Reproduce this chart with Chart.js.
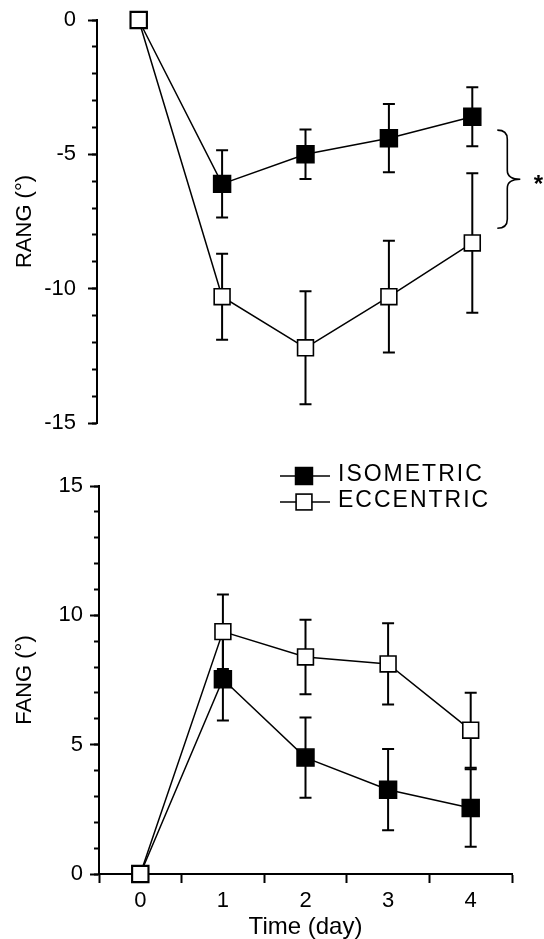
<!DOCTYPE html>
<html>
<head>
<meta charset="utf-8">
<script src="https://cdn.jsdelivr.net/npm/chart.js@4.4.1/dist/chart.umd.min.js"></script>
<style>
  html, body { margin: 0; padding: 0; background: #fff; }
  #wrap { position: relative; width: 544px; height: 939px; }
  canvas { position: absolute; left: 0; }
  #rang { top: 0; }
  #fang { top: 460px; }
</style>
</head>
<body>
<div id="wrap">
  <canvas id="rang" width="544" height="460"></canvas>
  <canvas id="fang" width="544" height="479"></canvas>
</div>
<script>
const days = [0, 1, 2, 3, 4];

// top panel, RANG (deg)
const rangIso = [0, -6.1, -5.0, -4.4, -3.6];
const rangIsoErr = [0, 1.25, 0.92, 1.27, 1.1];
const rangEcc = [0, -10.3, -12.2, -10.3, -8.3];
const rangEccErr = [0, 1.6, 2.1, 2.08, 2.6];
const rangTicks = [-15, -10, -5, 0];
const braceRange = [-4.1, -7.75];

// bottom panel, FANG (deg)
const fangIso = [0, 7.53, 4.5, 3.26, 2.55];
const fangIsoErr = [0, 1.6, 1.55, 1.57, 1.5];
const fangEcc = [0, 9.37, 8.39, 8.12, 5.56];
const fangEccErr = [0, 1.44, 1.44, 1.57, 1.45];
const fangTicks = [0, 5, 10, 15];

const FONT = 'Liberation Sans, Arial, sans-serif';

function points(vals) {
  return days.map((d, i) => ({ x: d, y: vals[i] }));
}

function isoSet(vals, errs) {
  return {
    label: 'ISOMETRIC',
    data: points(vals),
    errors: errs,
    borderColor: '#000',
    borderWidth: 1.5,
    backgroundColor: '#000',
    pointStyle: 'rect',
    pointRadius: 12,
    pointBorderWidth: 1.5,
    pointBackgroundColor: '#000',
    pointBorderColor: '#000',
    tension: 0,
    clip: false,
    order: 1
  };
}

function eccSet(vals, errs) {
  return {
    label: 'ECCENTRIC',
    data: points(vals),
    errors: errs,
    borderColor: '#000',
    borderWidth: 1.5,
    backgroundColor: '#fff',
    pointStyle: 'rect',
    pointRadius: 11.2,
    pointBorderWidth: 1.6,
    pointBackgroundColor: '#fff',
    pointBorderColor: '#000',
    tension: 0,
    clip: false,
    order: 0
  };
}

const errorBars = {
  id: 'errorBars',
  beforeDatasetsDraw(chart) {
    const ctx = chart.ctx;
    const ys = chart.scales.y;
    ctx.save();
    ctx.strokeStyle = '#000';
    ctx.lineWidth = 2;
    chart.data.datasets.forEach((ds, i) => {
      const meta = chart.getDatasetMeta(i);
      meta.data.forEach((pt, j) => {
        const e = ds.errors[j];
        if (!e) return;
        const v = ds.data[j].y;
        const y1 = ys.getPixelForValue(v + e);
        const y2 = ys.getPixelForValue(v - e);
        ctx.beginPath();
        ctx.moveTo(pt.x, y1);
        ctx.lineTo(pt.x, y2);
        ctx.moveTo(pt.x - 6, y1);
        ctx.lineTo(pt.x + 6, y1);
        ctx.moveTo(pt.x - 6, y2);
        ctx.lineTo(pt.x + 6, y2);
        ctx.stroke();
      });
    });
    ctx.restore();
  }
};

// curly brace + asterisk to the right of day 4 in the top panel
const braceMark = {
  id: 'braceMark',
  afterDatasetsDraw(chart) {
    const ctx = chart.ctx;
    const x4 = chart.scales.x.getPixelForValue(days[days.length - 1]);
    const top = chart.scales.y.getPixelForValue(braceRange[0]);
    const bot = chart.scales.y.getPixelForValue(braceRange[1]);
    const mid = (top + bot) / 2;
    const L = x4 + 25, M = x4 + 35, T = x4 + 48, r = 9;
    ctx.save();
    ctx.strokeStyle = '#000';
    ctx.lineWidth = 1.6;
    ctx.beginPath();
    ctx.moveTo(L, top);
    ctx.quadraticCurveTo(M, top, M, top + r);
    ctx.lineTo(M, mid - r);
    ctx.quadraticCurveTo(M, mid, T, mid);
    ctx.quadraticCurveTo(M, mid, M, mid + r);
    ctx.lineTo(M, bot - r);
    ctx.quadraticCurveTo(M, bot, L, bot);
    ctx.stroke();
    ctx.fillStyle = '#000';
    ctx.font = 'bold 24px ' + FONT;
    ctx.textAlign = 'center';
    ctx.textBaseline = 'alphabetic';
    ctx.fillText('*', x4 + 66, mid + 13);
    ctx.restore();
  }
};

// legend with line-through markers, top right of the bottom panel
const legendBox = {
  id: 'legendBox',
  afterDraw(chart) {
    const ctx = chart.ctx;
    const rows = [
      { ds: chart.data.datasets[0], y: 16, ty: 21 },
      { ds: chart.data.datasets[1], y: 42, ty: 47 }
    ];
    ctx.save();
    rows.forEach(row => {
      const ds = row.ds;
      ctx.strokeStyle = '#000';
      ctx.lineWidth = 1.5;
      ctx.beginPath();
      ctx.moveTo(280, row.y);
      ctx.lineTo(330, row.y);
      ctx.stroke();
      const s = ds.pointRadius * Math.SQRT2;
      ctx.fillStyle = ds.pointBackgroundColor;
      ctx.fillRect(304 - s / 2, row.y - s / 2, s, s);
      ctx.lineWidth = ds.pointBorderWidth;
      ctx.strokeRect(304 - s / 2, row.y - s / 2, s, s);
      ctx.fillStyle = '#000';
      ctx.font = '23px ' + FONT;
      ctx.letterSpacing = '2px';
      ctx.textAlign = 'left';
      ctx.textBaseline = 'alphabetic';
      ctx.fillText(ds.label, 338, row.ty);
    });
    ctx.restore();
  }
};

function axisY(ticksArr, width, pad, title) {
  return {
    type: 'linear',
    position: 'left',
    min: ticksArr[0],
    max: ticksArr[ticksArr.length - 1],
    weight: 1,
    afterBuildTicks: s => { s.ticks = ticksArr.map(v => ({ value: v })); },
    afterFit: s => { s.width = width; s.paddingTop = 0; s.paddingBottom = 0; },
    grid: { drawOnChartArea: false, tickLength: 9, tickWidth: 2, tickColor: '#000', color: '#000' },
    border: { display: true, color: '#000', width: 2 },
    ticks: {
      color: '#000', padding: pad, autoSkip: false,
      font: { family: FONT, size: 22 },
      callback: v => String(v)
    },
    title: {
      display: true, text: title, color: '#000',
      font: { family: FONT, size: 22, lineHeight: 1.2 },
      padding: { top: 12, bottom: 0 }
    }
  };
}

function axisYMinor(ticksArr) {
  return {
    type: 'linear',
    position: 'left',
    min: ticksArr[0],
    max: ticksArr[ticksArr.length - 1],
    weight: 0,
    afterFit: s => { s.width = 0; s.paddingTop = 0; s.paddingBottom = 0; },
    grid: { drawOnChartArea: false, tickLength: 5, tickWidth: 2, tickColor: '#000' },
    border: { display: false },
    ticks: { display: false, stepSize: 1, autoSkip: false }
  };
}

function axisX(show) {
  const axis = {
    type: 'linear',
    min: days[0] - 0.5,
    max: days[days.length - 1] + 0.5,
    display: show,
    afterBuildTicks: s => { s.ticks = days.map(v => ({ value: v })); },
    grid: { offset: true, drawOnChartArea: false, tickLength: 9, tickWidth: 2, tickColor: '#000', color: '#000' },
    border: { display: true, color: '#000', width: 2 },
    ticks: {
      color: '#000', padding: 5, autoSkip: false, maxRotation: 0,
      font: { family: FONT, size: 22 },
      callback: v => String(v)
    },
    title: {
      display: true, text: 'Time (day)', color: '#000',
      font: { family: FONT, size: 24, lineHeight: 1 },
      padding: { top: 0, bottom: 0 }
    }
  };
  if (show) axis.afterFit = s => { s.height = 65; };
  return axis;
}

const baseOptions = {
  responsive: false,
  animation: false,
  plugins: { legend: { display: false }, tooltip: { enabled: false } }
};

new Chart(document.getElementById('rang'), {
  type: 'line',
  data: { datasets: [isoSet(rangIso, rangIsoErr), eccSet(rangEcc, rangEccErr)] },
  options: Object.assign({}, baseOptions, {
    layout: { padding: { left: 0, right: 30, top: 20, bottom: 37 } },
    scales: {
      x: axisX(false),
      y: axisY(rangTicks, 97, 12, 'RANG (°)'),
      yMinor: axisYMinor(rangTicks)
    }
  }),
  plugins: [errorBars, braceMark]
});

new Chart(document.getElementById('fang'), {
  type: 'line',
  data: { datasets: [isoSet(fangIso, fangIsoErr), eccSet(fangEcc, fangEccErr)] },
  options: Object.assign({}, baseOptions, {
    layout: { padding: { left: 0, right: 32, top: 26, bottom: 0 } },
    scales: {
      x: axisX(true),
      y: axisY(fangTicks, 99, 7, 'FANG (°)'),
      yMinor: axisYMinor(fangTicks)
    }
  }),
  plugins: [errorBars, legendBox]
});
</script>
</body>
</html>
